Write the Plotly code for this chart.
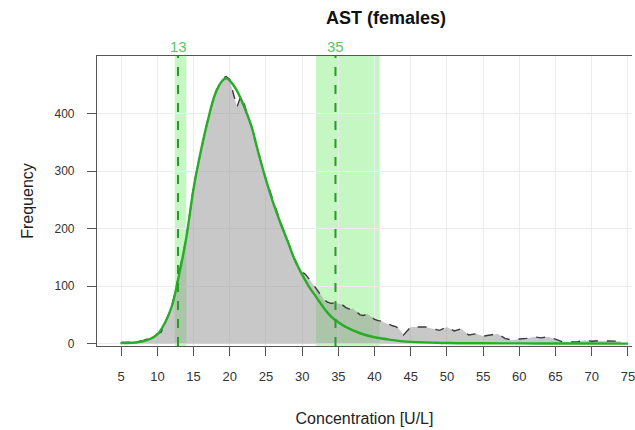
import plotly.graph_objects as go

# ---- data ----
hist_x = [5, 6, 7, 8, 9, 9.5, 10, 10.5, 11, 11.5, 12, 12.5, 13, 13.5, 14, 14.5, 15, 15.5, 16, 16.5,
          17, 17.5, 18, 18.5, 19, 19.5, 20, 20.5, 21, 21.5, 22, 22.5, 23, 23.5, 24, 24.5, 25, 25.5,
          26, 26.5, 27, 27.5, 28, 28.5, 29, 29.5, 30, 30.5, 31, 31.5, 32, 32.5, 33, 33.5, 34, 34.5,
          35, 35.5, 36, 36.5, 37, 37.5, 38, 38.5, 39, 39.5, 40, 40.5, 41, 41.5, 42, 42.5, 43, 43.5,
          44, 44.5, 45, 46, 47, 48, 49, 50, 51, 52, 53, 54, 55, 56, 57, 58, 59, 60, 61, 62, 63, 64,
          65, 66, 67, 68, 69, 70, 71, 72, 73, 74]
hist_y = [2, 2, 3, 5, 10, 14, 17, 20, 33, 48, 66, 92, 122, 150, 185, 228, 275, 305, 336, 362,
          392, 415, 437, 450, 462, 465, 460, 435, 412, 430, 418, 395, 378, 352, 332, 305, 288, 268,
          248, 228, 212, 195, 180, 160, 146, 133, 125, 120, 112, 103, 93, 85, 77, 72, 70, 71,
          70, 68, 63, 60, 61, 56, 50, 49, 52, 47, 42, 40, 39, 36, 33, 31, 29, 24,
          15, 22, 29, 29, 29, 26, 23, 29, 22, 26, 15, 17, 13, 15, 17, 9, 6, 8, 9, 12, 10, 12,
          7, 3, 3, 3, 6, 4, 5, 5, 5, 4]

fit_x = [4.9, 6, 7, 8, 9, 10, 11, 12, 13, 14, 15, 16, 17, 18, 19, 19.5, 20, 21, 22, 23, 24, 25,
         26, 27, 28, 29, 30, 31, 32, 33, 34, 35, 36, 38, 40, 42, 45, 50, 55, 60, 65, 70, 75]
fit_y = [1, 1, 2, 4, 8, 16, 35, 65, 120, 185, 270, 335, 390, 435, 458, 462, 458, 440, 412, 378,
         330, 285, 245, 210, 178, 145, 120, 98, 80, 62, 47, 37, 29, 18, 11, 7, 3, 1, 0.5, 0.3, 0.2, 0.1, 0]

ref_limits = [12.85, 34.6]
ref_labels = ["13", "35"]
ci_low = [12.4, 31.9]
ci_high = [14.0, 40.7]

x_ticks = [5, 10, 15, 20, 25, 30, 35, 40, 45, 50, 55, 60, 65, 70, 75]
y_ticks = [0, 100, 200, 300, 400]

FONT = "Liberation Sans, Arial, sans-serif"

fig = go.Figure()

fig.add_trace(go.Scatter(
    x=hist_x, y=hist_y, mode="lines", fill="tozeroy",
    fillcolor="rgba(150,150,150,0.52)",
    line=dict(color="#3a3a3a", width=1.4, dash="dash"),
    hoverinfo="skip", showlegend=False))

fig.add_trace(go.Scatter(
    x=fit_x, y=fit_y, mode="lines", line=dict(color="#27ad27", width=2.4, shape="spline"),
    hoverinfo="skip", showlegend=False))

for lo, hi in zip(ci_low, ci_high):
    fig.add_shape(type="rect", xref="x", yref="paper", x0=lo, x1=hi, y0=0, y1=1,
                  fillcolor="rgba(60,230,50,0.30)", line=dict(width=0), layer="between")

for v, lab in zip(ref_limits, ref_labels):
    fig.add_shape(type="line", xref="x", yref="paper", x0=v, x1=v, y0=0, y1=1,
                  line=dict(color="#2a9a2a", width=2, dash="dash"), layer="above")
    fig.add_annotation(x=v, y=1, xref="x", yref="paper", text=lab, showarrow=False,
                       yanchor="bottom", yshift=-1,
                       font=dict(family=FONT, size=15, color="#5cc45c"))

fig.update_layout(
    width=635, height=430,
    margin=dict(l=97, r=0, t=56, b=84.3),
    paper_bgcolor="white", plot_bgcolor="white",
    font=dict(family=FONT, color="#333333"),
    title=dict(text="<b>AST (females)</b>", x=386 / 635, xref="container", xanchor="center",
               y=1 - 18 / 430, yref="container", yanchor="middle",
               font=dict(family=FONT, size=18, color="#111111")),
    showlegend=False,
)

fig.update_xaxes(
    range=[1.66, 75.56], tickvals=x_ticks, ticktext=[str(t) for t in x_ticks],
    ticks="outside", ticklen=9, tickwidth=1, tickcolor="#555555",
    showline=True, linecolor="#555555", linewidth=1.2, mirror=True,
    showgrid=True, gridcolor="#ececec", gridwidth=1, zeroline=False,
    tickfont=dict(family=FONT, size=13, color="#333333"), ticklabelstandoff=9,
    ticklabeloverflow="allow",
    title=dict(text="Concentration [U/L]", font=dict(family=FONT, size=16, color="#222222"),
               standoff=30),
)
fig.update_yaxes(
    range=[-4.2, 500.7], tickvals=y_ticks, ticktext=[str(t) for t in y_ticks],
    ticks="outside", ticklen=9, tickwidth=1, tickcolor="#555555",
    showline=True, linecolor="#555555", linewidth=1.2, mirror=False,
    showgrid=True, gridcolor="#ececec", gridwidth=1, zeroline=False,
    tickfont=dict(family=FONT, size=12, color="#333333"), ticklabelstandoff=10,
    title=dict(text="Frequency", font=dict(family=FONT, size=16, color="#222222"), standoff=16),
)

fig.write_html("out.html")
